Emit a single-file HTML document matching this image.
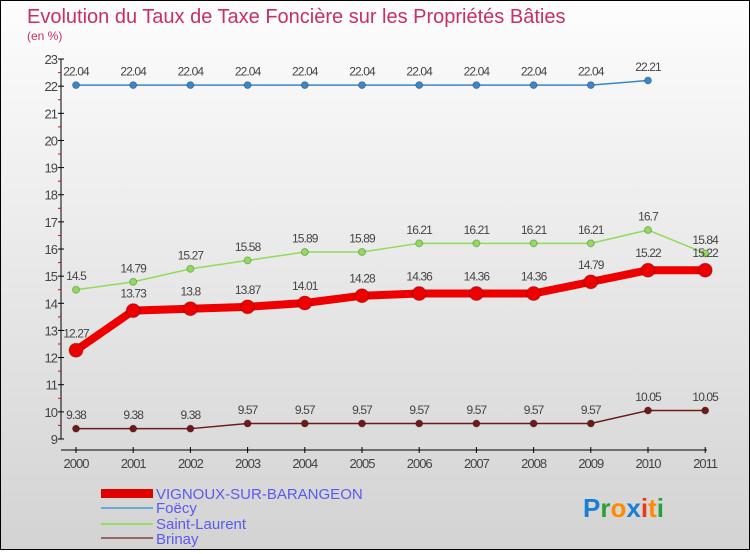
<!DOCTYPE html>
<html><head><meta charset="utf-8"><style>
body{margin:0;width:750px;height:550px;overflow:hidden;font-family:"Liberation Sans",sans-serif}
#c{position:absolute;left:0;top:0;width:748px;height:548px;border:1px solid #000;background:linear-gradient(#fdfdfd,#d3d3d3)}
</style></head><body>
<div id="c">
<svg id="s" width="748" height="548" font-family="Liberation Sans, sans-serif">
<text x="26" y="22" font-size="20" font-weight="300" fill="#c8305e">Evolution du Taux de Taxe Foncière sur les Propriétés Bâties</text>
<text x="26" y="39" font-size="12" fill="#c8305e">(en %)</text>
<g id="ax"></g><g id="pl"></g>
<rect x="100" y="488" width="52" height="9" fill="#e00000"/>
<line x1="100" y1="507" x2="152" y2="507" stroke="#6aa7d4" stroke-width="2"/>
<line x1="100" y1="523" x2="152" y2="523" stroke="#99dd66" stroke-width="2"/>
<line x1="100" y1="537" x2="152" y2="537" stroke="#9a6464" stroke-width="2"/>
<g font-size="15" fill="#5a5af0">
<text x="155" y="498">VIGNOUX-SUR-BARANGEON</text>
<text x="155" y="512">Foëcy</text>
<text x="155" y="528">Saint-Laurent</text>
<text x="155" y="543">Brinay</text>
</g>
<text x="582" y="516" font-size="26" font-weight="bold"><tspan fill="#1a7fd4">P</tspan><tspan fill="#2aa03a">r</tspan><tspan fill="#ff8a00">o</tspan><tspan fill="#1a7fd4">x</tspan><tspan fill="#e83a1a">i</tspan><tspan fill="#ff8a00">t</tspan><tspan fill="#2aa03a">i</tspan></text>
</svg></div>
<script>
const years=["2000","2001","2002","2003","2004","2005","2006","2007","2008","2009","2010","2011"];
const vignoux=[12.27,13.73,13.8,13.87,14.01,14.28,14.36,14.36,14.36,14.79,15.22,15.22];
const foecy=[22.04,22.04,22.04,22.04,22.04,22.04,22.04,22.04,22.04,22.04,22.21,null];
const saintLaurent=[14.5,14.79,15.27,15.58,15.89,15.89,16.21,16.21,16.21,16.21,16.7,15.84];
const brinay=[9.38,9.38,9.38,9.57,9.57,9.57,9.57,9.57,9.57,9.57,10.05,10.05];
const yTicks=[9,10,11,12,13,14,15,16,17,18,19,20,21,22,23];
const NS="http://www.w3.org/2000/svg";
const X=i=>75+i*57.2, Y=v=>438-(v-9)*27.14;
function mk(p,t,a){const e=document.createElementNS(NS,t);for(const k in a)e.setAttribute(k,a[k]);p.appendChild(e);return e;}
const ax=document.getElementById('ax'),pl=document.getElementById('pl');
let e=mk(ax,'line',{x1:60,y1:Y(23),x2:60,y2:Y(9),stroke:'#000'});

e=mk(ax,'line',{x1:60,y1:449,x2:706,y2:449,stroke:'#000'});

yTicks.forEach(v=>{
 mk(ax,'line',{x1:57,y1:Y(v),x2:63,y2:Y(v),stroke:'#000'});
 if(v<23)mk(ax,'line',{x1:57,y1:Y(v+0.5),x2:60,y2:Y(v+0.5),stroke:'#e00'});
 const t=mk(ax,'text',{x:56,y:Y(v)+5,'font-size':13,fill:'#444','text-anchor':'end','letter-spacing':'-1'});
 t.textContent=v;
 
});
years.forEach((y,i)=>{
 mk(ax,'line',{x1:X(i),y1:446,x2:X(i),y2:452,stroke:'#000'});
 const t=mk(ax,'text',{x:X(i),y:467,'font-size':13,fill:'#444','text-anchor':'middle','letter-spacing':'-1'});
 t.textContent=y;
 
});
function series(d,col,w,r,name){
 const pts=d.map((v,i)=>v==null?null:[X(i),Y(v)]).filter(p=>p);
 const l=mk(pl,'polyline',{points:pts.map(p=>p.join(',')).join(' '),fill:'none',stroke:col,'stroke-width':w});
 
 d.forEach((v,i)=>{if(v==null)return;
  const c=mk(pl,'circle',{cx:X(i),cy:Y(v),r:r,fill:col,stroke:'rgba(0,0,0,0.25)'});
  
  const t=mk(pl,'text',{x:X(i),y:Y(v)-(r+6),'font-size':12,fill:'#444','text-anchor':'middle','letter-spacing':'-0.9'});
  t.textContent=String(v);
  
 });
}
series(brinay,'#6e1a1a',1.5,3.5,'brinay');
series(saintLaurent,'#8fdc5a',1.5,3.5,'saint-laurent');
series(foecy,'#3a86c8',1.5,3.5,'foecy');
series(vignoux,'#ee0000',8,7,'vignoux');
</script>
</body></html>
